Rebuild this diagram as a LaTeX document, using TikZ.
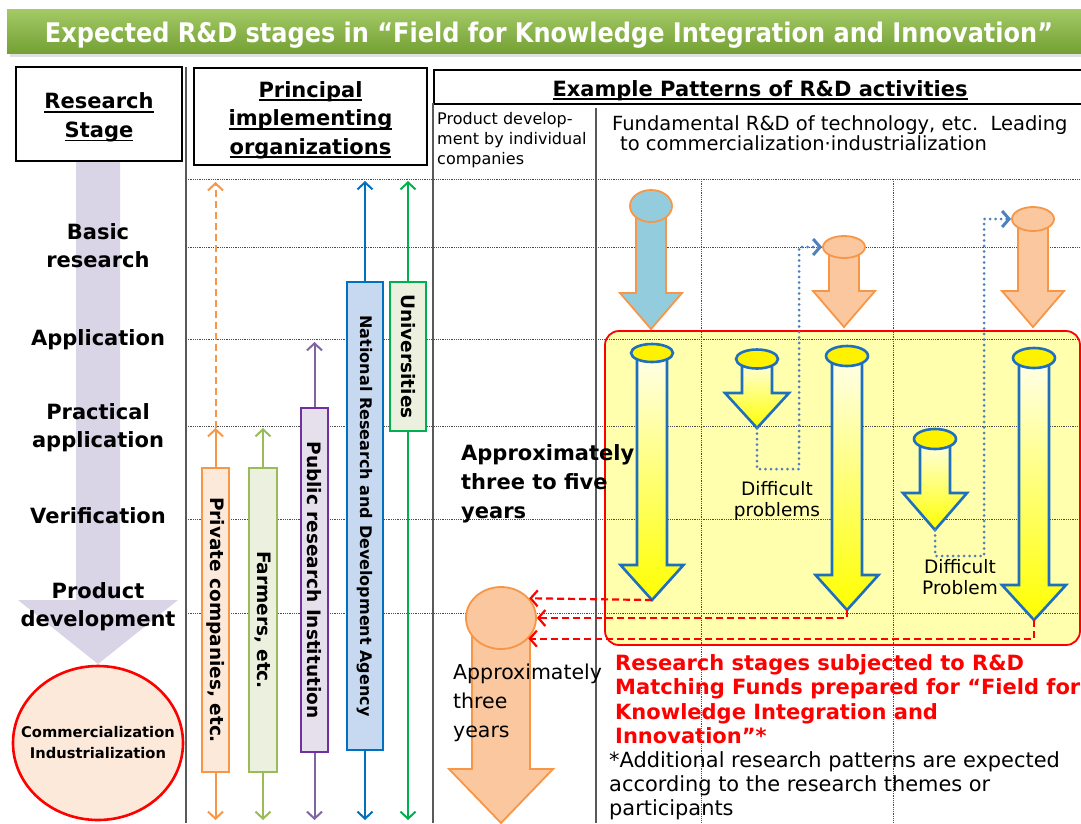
\documentclass[tikz,border=0pt]{standalone}
\usepackage{fontspec}
\setmainfont{DejaVu Sans}
\usepackage{graphicx}
\usetikzlibrary{arrows.meta,shapes.geometric}
\definecolor{titleTop}{HTML}{A4CA66}
\definecolor{titleBot}{HTML}{74A035}
\definecolor{stagearrow}{HTML}{D9D5E7}
\definecolor{orgOrange}{HTML}{F79646}
\definecolor{orgOrangeFill}{HTML}{FDE9D9}
\definecolor{orgGreen}{HTML}{9BBB59}
\definecolor{orgGreenFill}{HTML}{EBF1DE}
\definecolor{orgPurple}{HTML}{7030A0}
\definecolor{orgPurpleArrow}{HTML}{8064A2}
\definecolor{orgPurpleFill}{HTML}{E6E0EC}
\definecolor{orgBlue}{HTML}{0070C0}
\definecolor{orgBlueFill}{HTML}{C6D9F1}
\definecolor{uniGreen}{HTML}{00B050}
\definecolor{peachfill}{HTML}{FAC79F}
\definecolor{skyfill}{HTML}{93CDDD}
\definecolor{yelbox}{HTML}{FFFFAE}
\definecolor{dotblue}{HTML}{4F81BD}
\definecolor{arrowblue}{HTML}{1F6FBF}
\newcommand\ulx[1]{\setbox0\hbox{#1}\rlap{\rule[-4pt]{\wd0}{1.8pt}}\box0}
% #1 style prefix, #2 name, #3 cx, #4 ellipse cy, #5 shaft half, #6 head half, #7 head top, #8 tip, #9 ry
\newcommand\cylarrow[9]{%
  \path[#1 body] (#3-#5,#4) -- (#3-#5,#7) -- (#3-#6,#7) -- (#3,#8) -- (#3+#6,#7) -- (#3+#5,#7) -- (#3+#5,#4) -- cycle;
  \node[#1 top, minimum width={2*(#5+6)}, minimum height={2*#9}] (#2) at (#3,#4) {};
  \coordinate (#2tip) at (#3,#8);
}
\tikzset{
  yarr body/.style={draw=arrowblue, line width=2.6pt, top color=yellow!8!white, bottom color=yellow, line join=miter},
  yarr top/.style={ellipse, draw=arrowblue, line width=2.6pt, fill=yellow, inner sep=0},
  oarr body/.style={draw=orgOrange, line width=1.8pt, fill=peachfill, line join=miter},
  oarr top/.style={ellipse, draw=orgOrange, line width=1.8pt, fill=peachfill, inner sep=0},
  barr body/.style={draw=orgOrange, line width=1.8pt, fill=skyfill, line join=miter},
  barr top/.style={ellipse, draw=orgOrange, line width=1.8pt, fill=skyfill, inner sep=0},
}
\begin{document}
\begin{tikzpicture}[x=1pt,y=-1pt,
  hdrbox/.style={draw=black, line width=2pt, fill=white, inner sep=0},
  hdrtext/.style={align=center, inner sep=0, yshift=-3.5pt, font=\bfseries\fontsize{21}{28.5}\selectfont},
  stage/.style={align=center, inner sep=0, anchor=north, font=\bfseries\fontsize{21}{28}\selectfont},
  gridline/.style={black!70, line width=0.9pt, dash pattern=on 0.9pt off 0.9pt},
  sepline/.style={black!65, line width=1.3pt},
  orgbox/.style={draw, line width=2.2pt, rotate=-90, inner sep=0, font=\bfseries\fontsize{18.5}{20}\selectfont},
  orgarr/.style={line width=2pt, -{Straight Barb[length=7pt,width=15pt]}},
  reddash/.style={red, line width=2.2pt, dash pattern=on 7pt off 4pt, -{Straight Barb[length=7pt,width=16pt]}},
  bluedot/.style={dotblue, line width=3pt, line cap=round, dash pattern=on 0pt off 5.5pt, -{Straight Barb[length=7pt,width=16pt]}},
  txt/.style={inner sep=0, anchor=north west, align=left},
]
\useasboundingbox (0,0) rectangle (1081,823);
\clip (0,0) rectangle (1081,823);
\fill[white] (0,0) rectangle (1081,823);
% title
\fill[black!12] (10,53) rectangle (1095,57);
\shade[top color=titleTop,bottom color=titleBot] (7,9) rectangle (1095,53);
\node[text=white, inner sep=0, font=\bfseries\fontsize{27}{30}\selectfont] (title) at (549,35)
  {\resizebox{1008pt}{\height}{Expected R\&D stages in “Field for Knowledge Integration and Innovation”}};
% stage arrow
\fill[stagearrow] (76,161) -- (120,161) -- (120,600) -- (178,600) -- (98,664) -- (18,600) -- (76,600) -- cycle;
% header boxes
\node[hdrbox, minimum width=166, minimum height=94,
  label={[hdrtext]center:\ulx{Research}\\\ulx{Stage}}] (rs) at (99,114) {};
\node[hdrbox, minimum width=233, minimum height=97,
  label={[hdrtext]center:\ulx{Principal}\\\ulx{implementing}\\\ulx{organizations}}] (pio) at (310.5,116.5) {};
\node[hdrbox, minimum width=660, minimum height=34, anchor=north west,
  label={[hdrtext, xshift=-4pt]center:\ulx{Example Patterns of R\&D activities}}] (ex) at (433,69) {};
% yellow area fill
\fill[yelbox, rounded corners=14pt] (605,331) rectangle (1080,645);
% grid
\foreach \yy in {179,247,339,426,519,613} \draw[gridline] (186,\yy) -- (1081,\yy);
\foreach \xx in {701,893} \draw[gridline] (\xx,179) -- (\xx,823);
\draw[sepline] (186,67) -- (186,823);
\draw[sepline] (433,103) -- (433,823);
\draw[sepline] (596,108) -- (596,823);
% sub headers
\node[txt, font=\fontsize{16}{20}\selectfont] (pdh) at (437,112) {Product develop-\\ment by individual\\companies};
\node[txt, font=\fontsize{19.5}{20}\selectfont] (fdh) at (612,115) {Fundamental R\&D of technology, etc.\ \ Leading\\\hspace*{8pt}to commercialization·industrialization};
% stage labels
\node[stage] (s1) at (98,223) {Basic\\research};
\node[stage] (s2) at (98,329) {Application};
\node[stage] (s3) at (98,403) {Practical\\application};
\node[stage] (s4) at (98,507) {Verification};
\node[stage] (s5) at (98,582) {Product\\development};
\node[ellipse, draw=red, line width=2.6pt, fill=orgOrangeFill, minimum width=170, minimum height=154, inner sep=0,
  label={[align=center, inner sep=0, font=\bfseries\fontsize{14.7}{21}\selectfont]center:Commercialization\\Industrialization}] (comm) at (98,743) {};
% organizations
\node[orgbox, draw=orgOrange, fill=orgOrangeFill, minimum width=304, minimum height=27] (priv) at (215.5,620) {Private companies, etc.};
\node[orgbox, draw=orgGreen, fill=orgGreenFill, minimum width=304, minimum height=28] (farm) at (263,620) {Farmers, etc.};
\node[orgbox, draw=orgPurple, fill=orgPurpleFill, minimum width=344, minimum height=27] (pub) at (314.5,580) {Public research Institution};
\node[orgbox, draw=orgBlue, fill=orgBlueFill, minimum width=468, minimum height=36, font=\bfseries\fontsize{16}{18}\selectfont] (nat) at (365,516) {National Research and Development Agency};
\node[orgbox, draw=uniGreen, fill=orgGreenFill, minimum width=149, minimum height=36] (uni) at (408,356.5) {Universities};
\coordinate (privmid) at (215.5,428);
\coordinate (privtop) at (215.5,182);
\coordinate (privbot) at (215.5,820);
\coordinate (farmtop) at (263,428);
\coordinate (farmbot) at (263,820);
\coordinate (pubtop) at (314.5,342);
\coordinate (pubbot) at (314.5,820);
\coordinate (nattop) at (365,181);
\coordinate (natbot) at (365,820);
\coordinate (unitop) at (408,181);
\coordinate (unibot) at (408,820);
\draw[orgarr, orgOrange] (priv.west) -- (privmid);
\draw[orgarr, orgOrange, dash pattern=on 7pt off 4pt] (privmid) -- (privtop);
\draw[orgarr, orgOrange] (priv.east) -- (privbot);
\draw[orgarr, orgGreen] (farm.west) -- (farmtop);
\draw[orgarr, orgGreen] (farm.east) -- (farmbot);
\draw[orgarr, orgPurpleArrow] (pub.west) -- (pubtop);
\draw[orgarr, orgPurpleArrow] (pub.east) -- (pubbot);
\draw[orgarr, orgBlue] (nat.west) -- (nattop);
\draw[orgarr, orgBlue] (nat.east) -- (natbot);
\draw[orgarr, uniGreen] (uni.west) -- (unitop);
\draw[orgarr, uniGreen] (uni.east) -- (unibot);
% yellow area border
\draw[red, line width=1.8pt, rounded corners=14pt] (605,331) rectangle (1080,645);
% top arrows
\cylarrow{barr}{b1}{651}{206}{15}{31}{293}{329}{16}
\cylarrow{oarr}{o2}{844}{247}{15}{31}{291}{327}{11}
\cylarrow{oarr}{o3}{1033}{219}{15}{31}{291}{327}{12}
% yellow arrows
\cylarrow{yarr}{y1}{652}{353}{15}{31.5}{565}{600}{9}
\cylarrow{yarr}{y2}{757}{359}{15}{32}{393}{428}{9.5}
\cylarrow{yarr}{y3}{847}{356}{15}{31.5}{575}{610}{10}
\cylarrow{yarr}{y4}{935}{439}{15}{32}{493}{530}{10}
\cylarrow{yarr}{y5}{1034}{358}{15}{32}{585}{620}{10}
% product development by individual companies
\cylarrow{oarr}{pd}{501}{618}{29}{52}{769}{823}{31}
% connectors
\draw[bluedot] (y2tip) -- (757,469) -- (799,469) |- (o2.west);
\draw[bluedot] (y4tip) -- (935,556) -- (984,556) |- (o3.west);
\draw[reddash] (y1tip) -- (pd.35);
\draw[reddash] (y3tip) |- (pd.east);
\draw[reddash] (y5tip) |- (pd.-37);
% texts
\node[txt, font=\bfseries\fontsize{21}{29}\selectfont] (t35) at (461,444) {Approximately\\three to five\\years};
\node[txt, font=\fontsize{20.5}{29}\selectfont] (t3) at (453,664) {Approximately\\three\\years};
\node[inner sep=0, anchor=north, align=center, font=\fontsize{18.5}{21}\selectfont] (dp1) at (777,481) {Difficult\\problems};
\node[inner sep=0, anchor=north, align=center, font=\fontsize{18.5}{21}\selectfont] (dp2) at (960,559) {Difficult\\Problem};
\node[txt, text=red, font=\bfseries\fontsize{21}{24.5}\selectfont] (red) at (615,654) {Research stages subjected to R\&D\\Matching Funds prepared for “Field for\\Knowledge Integration and\\Innovation”*};
\node[txt, font=\fontsize{20.9}{24}\selectfont] (note) at (609,751) {*Additional research patterns are expected\\according to the research themes or\\participants};
\end{tikzpicture}
\end{document}
